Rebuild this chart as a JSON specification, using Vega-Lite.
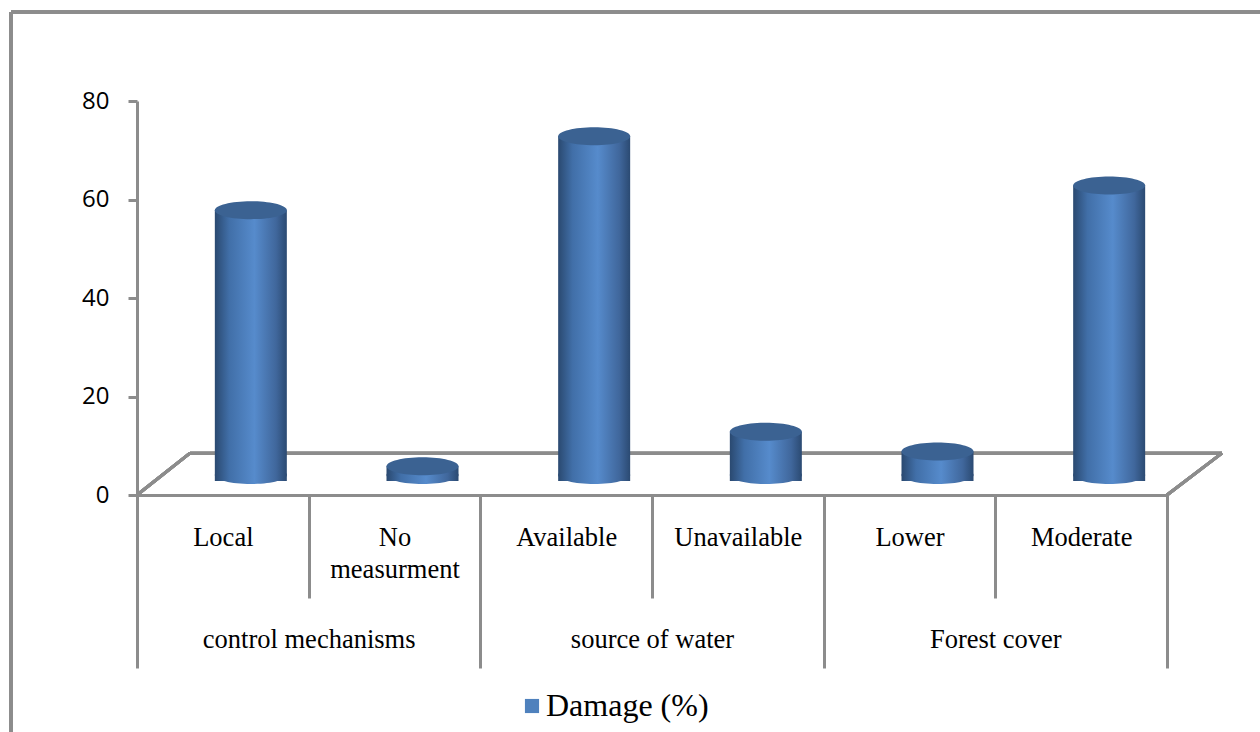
{
  "$schema": "https://vega.github.io/schema/vega-lite/v6.json",
  "width": 1030,
  "height": 394,
  "autosize": {"type": "none"},
  "padding": {"left": 137, "top": 101, "right": 93, "bottom": 237},
  "background": "white",
  "config": {"view": {"stroke": null}, "font": "Liberation Serif"},
  "data": {"values": [
    {"group": "control mechanisms", "category": "Local", "damage": 55},
    {"group": "control mechanisms", "category": "No measurment", "damage": 3},
    {"group": "source of water", "category": "Available", "damage": 70},
    {"group": "source of water", "category": "Unavailable", "damage": 10},
    {"group": "Forest cover", "category": "Lower", "damage": 6},
    {"group": "Forest cover", "category": "Moderate", "damage": 60}
  ]},
  "resolve": {"scale": {"x": "independent", "color": "independent"}, "axis": {"x": "independent"}},
  "layer": [
    {
      "layer": [
        {"mark": {"type": "rule", "color": "#8c8c8c", "strokeWidth": 3, "yOffset": -89, "xOffset": -126, "x2Offset": 93},
         "encoding": {"x": {"datum": 0, "type": "quantitative", "scale": {"domain": [0, 6], "nice": false, "zero": false}, "axis": null},
                      "x2": {"datum": 6},
                      "y": {"datum": 80, "type": "quantitative", "scale": {"domain": [0, 80]}}}},
        {"mark": {"type": "rule", "color": "#8c8c8c", "strokeWidth": 3, "xOffset": -126, "yOffset": -89, "y2Offset": 237},
         "encoding": {"x": {"datum": 0, "type": "quantitative"},
                      "y": {"datum": 80, "type": "quantitative"}, "y2": {"datum": 0}}},
        {"mark": {"type": "rule", "color": "#8c8c8c", "strokeWidth": 3, "xOffset": 53, "x2Offset": 55},
         "encoding": {"x": {"datum": 0, "type": "quantitative"}, "x2": {"datum": 6}, "y": {"datum": 8.5, "type": "quantitative"}}},
        {"mark": {"type": "rule", "color": "#8c8c8c", "strokeWidth": 3, "x2Offset": 53},
         "encoding": {"x": {"datum": 0, "type": "quantitative"}, "x2": {"datum": 0}, "y": {"datum": 0, "type": "quantitative"}, "y2": {"datum": 8.5}}},
        {"mark": {"type": "rule", "color": "#8c8c8c", "strokeWidth": 3, "x2Offset": 55},
         "encoding": {"x": {"datum": 6, "type": "quantitative"}, "x2": {"datum": 6}, "y": {"datum": 0, "type": "quantitative"}, "y2": {"datum": 8.5}}}
      ]
    },
    {
      "mark": {"type": "square", "opacity": 0},
      "encoding": {
        "x": {"field": "group", "type": "nominal", "sort": null,
              "scale": {"paddingInner": 0, "paddingOuter": 0},
              "axis": {"orient": "bottom", "title": null, "labelAngle": 0, "domain": false,
                       "tickBand": "extent", "tickSize": 173, "tickColor": "#8c8c8c", "tickWidth": 3,
                       "labelFont": "Liberation Serif", "labelFontSize": 26.5, "labelColor": "black", "labelLimit": 400,
                       "labelPadding": -42, "labelBaseline": "top"}},
        "y": {"field": "damage", "type": "quantitative", "scale": {"domain": [0, 80]}},
        "color": {"datum": "Damage (%)", "type": "nominal", "scale": {"range": ["#4f81bd"]},
                  "legend": {"title": null, "orient": "none", "legendX": 379, "legendY": 589, "direction": "horizontal", "symbolType": "square",
                             "symbolOpacity": 1, "symbolSize": 200, "symbolStrokeWidth": 0, "labelOffset": -2,
                             "labelFont": "Liberation Serif", "labelFontSize": 32, "labelColor": "black", "labelLimit": 400}}
      }
    },
    {
      "encoding": {
        "x": {"field": "category", "type": "nominal", "sort": null,
              "scale": {"paddingInner": 0, "paddingOuter": 0},
              "axis": {"orient": "bottom", "title": null, "labelAngle": 0,
                       "tickBand": "extent", "tickSize": 103, "tickColor": "#8c8c8c", "tickWidth": 3,
                       "domainColor": "#8c8c8c", "domainWidth": 3,
                       "labelFont": "Liberation Serif", "labelFontSize": 26.5, "labelColor": "black", "labelLimit": 300,
                       "labelPadding": -74, "labelBaseline": "top", "labelLineHeight": 32,
                       "labelExpr": "datum.value == 'No measurment' ? ['No', 'measurment'] : datum.value"}}
      },
      "layer": [
        {"mark": {"type": "point", "shape": "M-1,0A1,0.25,0,1,0,1,0A1,0.25,0,1,0,-1,0Z", "size": 5184, "filled": true, "opacity": 1, "xOffset": 28, "yOffset": -20,
                  "color": {"gradient": "linear", "x1": 0, "y1": 0, "x2": 1, "y2": 0,
                            "stops": [{"offset": 0, "color": "#2a4970"}, {"offset": 0.2, "color": "#416fa8"}, {"offset": 0.55, "color": "#568bcc"}, {"offset": 0.85, "color": "#40679c"}, {"offset": 1, "color": "#2b4a72"}]}},
         "encoding": {"y": {"datum": 0, "type": "quantitative"}}},
        {"mark": {"type": "bar", "size": 72, "xOffset": 28, "yOffset": -14, "y2Offset": -20,
                  "color": {"gradient": "linear", "x1": 0, "y1": 0, "x2": 1, "y2": 0,
                            "stops": [{"offset": 0, "color": "#2a4970"}, {"offset": 0.2, "color": "#416fa8"}, {"offset": 0.55, "color": "#568bcc"}, {"offset": 0.85, "color": "#40679c"}, {"offset": 1, "color": "#2b4a72"}]}},
         "encoding": {
           "y": {"field": "damage", "type": "quantitative", "scale": {"domain": [0, 80]},
                 "axis": {"values": [0, 20, 40, 60, 80], "title": null, "grid": false, "tickSize": 9,
                          "tickColor": "#8c8c8c", "tickWidth": 3, "domainColor": "#8c8c8c", "domainWidth": 3,
                          "labelFont": "Open Sans", "labelFontSize": 24, "labelColor": "black", "labelPadding": 19}}
         }},
        {"mark": {"type": "point", "shape": "M-1,0A1,0.25,0,1,0,1,0A1,0.25,0,1,0,-1,0Z", "size": 5184, "filled": true, "opacity": 1, "xOffset": 28, "yOffset": -14, "color": "#3b6292"},
         "encoding": {"y": {"field": "damage", "type": "quantitative"}}}
      ]
    }
  ]
}
